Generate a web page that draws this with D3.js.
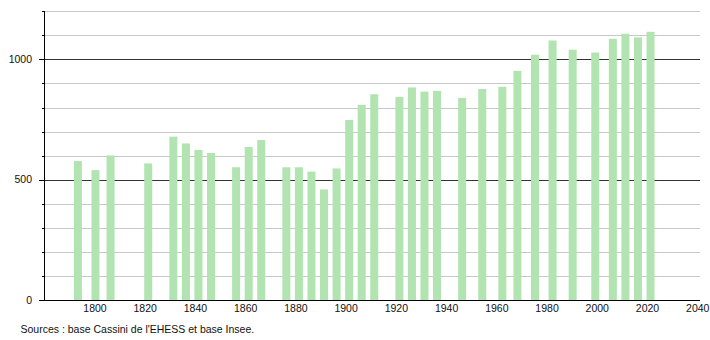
<!DOCTYPE html>
<meta charset="utf-8">
<style>
body{
  margin: 0;
  background: #fff;
}
text {
  font-family: "Liberation Sans", Arial, sans-serif;
  fill: #111;
}
</style>
<svg width="710" height="340"></svg>
<script src="https://cdn.jsdelivr.net/npm/d3@7"></script>
<script>

// census years and population
var years = [1793, 1800, 1806, 1821, 1831, 1836, 1841, 1846, 1856, 1861, 1866,
  1876, 1881, 1886, 1891, 1896, 1901, 1906, 1911, 1921, 1926, 1931, 1936,
  1946, 1954, 1962, 1968, 1975, 1982, 1990, 1999, 2006, 2011, 2016, 2021];
var population = [578, 540, 601, 568, 679, 651, 624, 611, 552, 636, 665,
  552, 552, 534, 460, 547, 748, 811, 855, 844, 883, 866, 869,
  840, 877, 886, 952, 1019, 1078, 1040, 1028, 1085, 1106, 1091, 1114];

var xTicks = [1800, 1820, 1840, 1860, 1880, 1900, 1920, 1940, 1960, 1980, 2000, 2020, 2040];
var yLabels = [0, 500, 1000];
var source = "Sources : base Cassini de l'EHESS et base Insee.";

var svg = d3.select("svg");

var x = d3.scaleLinear().domain([1779.5, 2041.5]).range([44, 702]);
var y = d3.scaleLinear().domain([0, 1200]).range([300.3, 11.1]);

var grid = d3.range(100, 1201, 100);

// grid lines
svg.append("g")
  .selectAll("line")
  .data(grid)
  .enter().append("line")
  .attr("x1", 44)
  .attr("x2", 700)
  .attr("y1", function(d) { return Math.round(y(d)) + 0.5; })
  .attr("y2", function(d) { return Math.round(y(d)) + 0.5; })
  .attr("stroke", function(d) { return d % 500 == 0 ? "#333" : "#c8c8c8"; })
  .attr("stroke-width", 1);

// bars
svg.append("g")
  .selectAll("rect")
  .data(years)
  .enter().append("rect")
  .attr("x", function(d) { return x(d) - 4; })
  .attr("width", 8)
  .attr("y", function(d, i) { return y(population[i]); })
  .attr("height", function(d, i) { return y(0) - y(population[i]); })
  .attr("fill", "#b1e4b1");

// y axis
svg.append("line")
  .attr("x1", 44.5).attr("x2", 44.5)
  .attr("y1", Math.round(y(1200))).attr("y2", 300.5)
  .attr("stroke", "#000");

svg.append("g")
  .selectAll("line")
  .data(grid)
  .enter().append("line")
  .attr("x1", function(d) { return d % 500 == 0 ? 39 : 42; })
  .attr("x2", 44.5)
  .attr("y1", function(d) { return Math.round(y(d)) + 0.5; })
  .attr("y2", function(d) { return Math.round(y(d)) + 0.5; })
  .attr("stroke", "#000");

svg.append("g")
  .selectAll("text")
  .data(yLabels)
  .enter().append("text")
  .attr("x", 32)
  .attr("y", function(d) { return y(d); })
  .attr("dy", "0.35em")
  .attr("text-anchor", "end")
  .attr("font-size", "10.5px")
  .text(function(d) { return d; });

// x axis
svg.append("line")
  .attr("x1", 39).attr("x2", 700)
  .attr("y1", 300.5).attr("y2", 300.5)
  .attr("stroke", "#000");

svg.append("g")
  .selectAll("text")
  .data(xTicks)
  .enter().append("text")
  .attr("x", function(d) { return x(d) - 0.5; })
  .attr("y", 312)
  .attr("text-anchor", "middle")
  .attr("font-size", "10.5px")
  .text(function(d) { return d; });

svg.append("text")
  .attr("x", 20.5)
  .attr("y", 333)
  .attr("font-size", "10.5px")
  .text(source);

</script>
